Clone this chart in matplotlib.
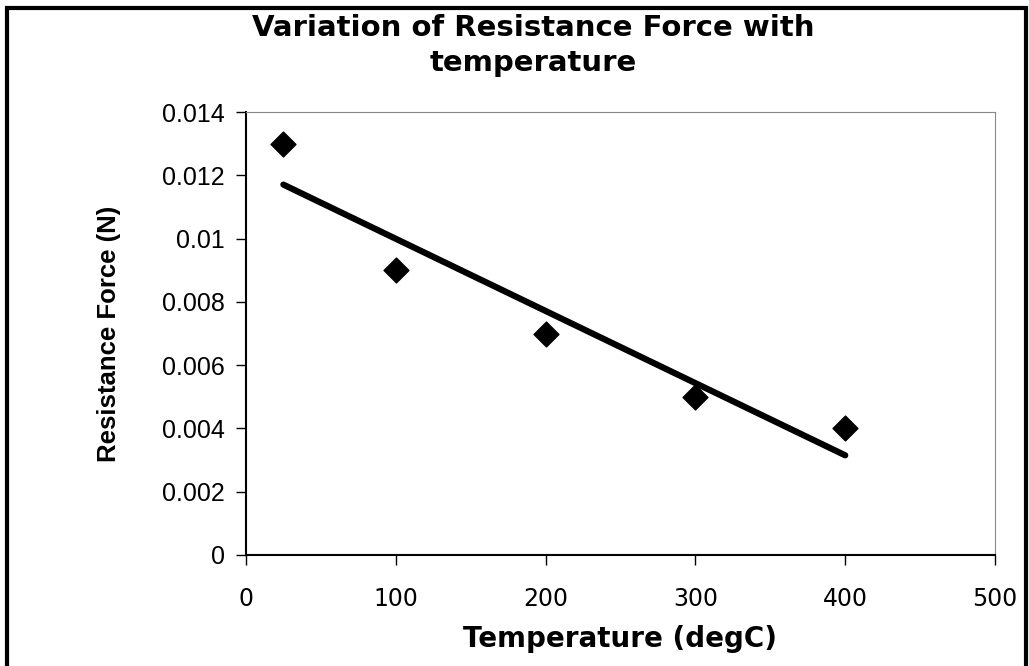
import numpy as np
import matplotlib
matplotlib.use("Agg")
from matplotlib import pyplot as plt
from matplotlib.patches import Rectangle

# data
temperature = [25, 100, 200, 300, 400]
force = [0.013, 0.009, 0.007, 0.005, 0.004]
xticks = [0, 100, 200, 300, 400, 500]
yticks = [0, 0.002, 0.004, 0.006, 0.008, 0.01, 0.012, 0.014]
ytick_labels = ["0", "0.002", "0.004", "0.006", "0.008", "0.01", "0.012", "0.014"]

plt.rcParams['font.family'] = ['Liberation Sans', 'DejaVu Sans']

fig = plt.figure(figsize=(10.29, 6.66), dpi=100)
ax = fig.add_axes([0.239, 0.1667, 0.728, 0.665])

# linear trendline (excel style)
k, b = np.polyfit(temperature, force, 1)
tx = np.array([temperature[0], temperature[-1]])
ax.plot(tx, k * tx + b, color="black", lw=4.5, solid_capstyle="round")

ax.scatter(temperature, force, marker="D", s=160, color="black", zorder=3)

ax.set_xlim(0, 500)
ax.set_ylim(0, 0.014)
ax.set_xticks(xticks)
ax.set_yticks(yticks)
ax.set_yticklabels(ytick_labels)
ax.tick_params(direction="out", length=7, width=1, labelsize=18, pad=8)
ax.tick_params(axis="x", pad=16)
for lbl in ax.get_xticklabels():
    lbl.set_family("DejaVu Sans")
    lbl.set_fontsize(17)

for s in ["top", "right"]:
    ax.spines[s].set_color("#888888")
    ax.spines[s].set_linestyle((0, (1, 1)))
for s in ["left", "bottom"]:
    ax.spines[s].set_linewidth(1.5)

ax.set_xlabel("Temperature (degC)", fontsize=20, fontweight="bold",
              family="DejaVu Sans", labelpad=10)
ax.set_ylabel("Resistance Force (N)", fontsize=18.5, fontweight="bold", labelpad=30)
fig.text(0.518, 0.958, "Variation of Resistance Force with",
         ha="center", va="center", fontsize=21, fontweight="bold", family="DejaVu Sans")
fig.text(0.518, 0.905, "temperature", ha="center", va="center",
         fontsize=21, fontweight="bold", family="DejaVu Sans")

# outer chart frame
fig.patches.append(Rectangle((0.007, -0.02), 0.99, 1.008, transform=fig.transFigure,
                             fill=False, edgecolor="black", lw=3))

plt.savefig("out.png", dpi=100)
